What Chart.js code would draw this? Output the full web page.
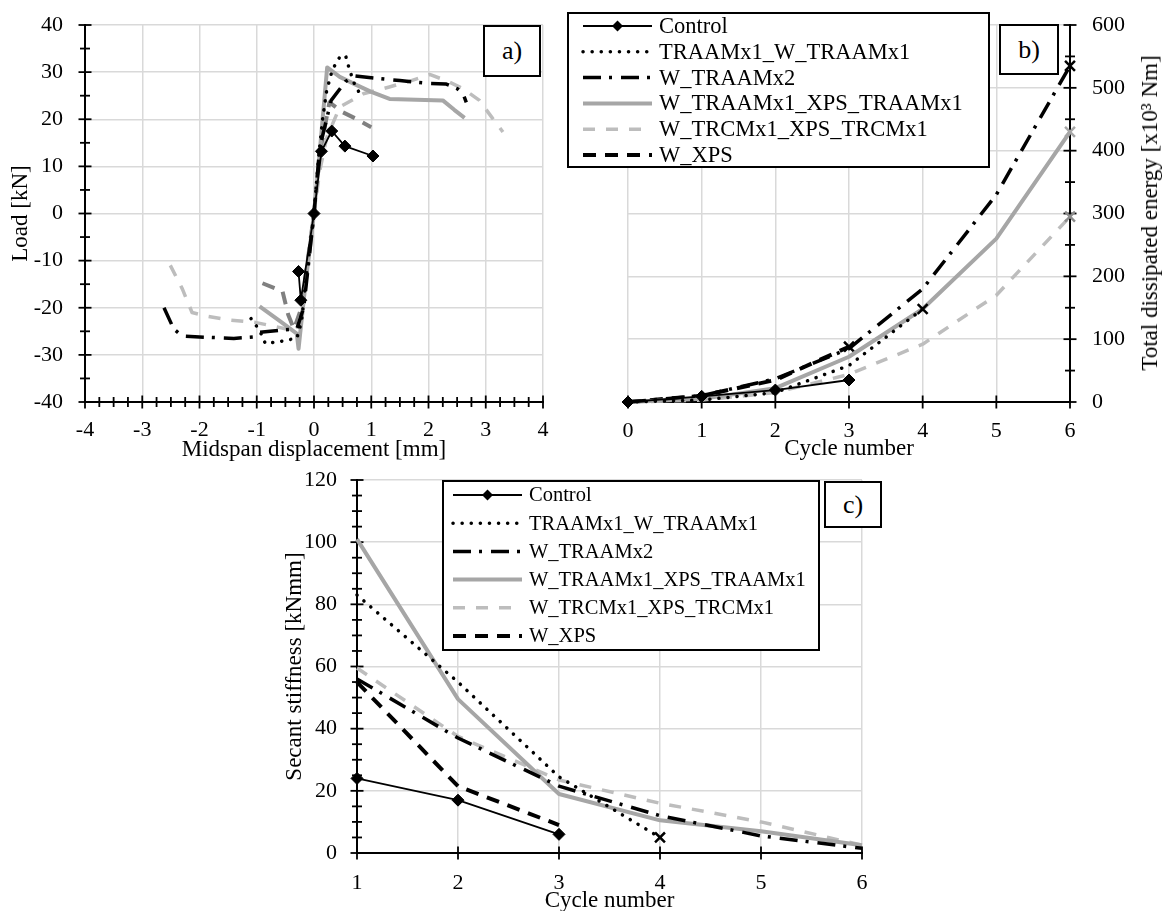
<!DOCTYPE html>
<html>
<head>
<meta charset="utf-8">
<title>Load, dissipated energy and secant stiffness</title>
<script src="https://cdn.jsdelivr.net/npm/chart.js@4.4.1/dist/chart.umd.min.js"></script>
<style>
  html, body { margin: 0; padding: 0; background: #fff; overflow: hidden; }
  body { width: 1164px; height: 911px; position: relative; font-family: 'Liberation Serif', 'Times New Roman', serif; color: #000; }
  canvas { position: absolute; }
  #chartA { left: 0; top: 0; }
  #chartB { left: 560px; top: 0; }
  #chartC { left: 190px; top: 460px; }
  .tag { position: absolute; box-sizing: border-box; border: 2px solid #000; background: #fff; font-size: 26px; display: flex; align-items: center; justify-content: center; }
  .ytitle { position: absolute; font-size: 23px; white-space: nowrap; transform: translate(-50%, -50%) rotate(-90deg); }
</style>
</head>
<body>
<canvas id="chartA" width="560" height="480"></canvas>
<canvas id="chartB" width="604" height="480"></canvas>
<canvas id="chartC" width="720" height="460"></canvas>
<div class="tag" style="left:483px;top:25px;width:58px;height:52px">a)</div>
<div class="tag" style="left:999px;top:24px;width:60px;height:51px">b)</div>
<div class="tag" style="left:824px;top:481px;width:58px;height:47px">c)</div>
<div class="ytitle" style="left:1150px;top:213px">Total dissipated energy [x10³ Nm]</div>
<script>
const FONT = "'Liberation Serif', 'Times New Roman', serif";

const seriesLabels = ['Control', 'TRAAMx1_W_TRAAMx1', 'W_TRAAMx2', 'W_TRAAMx1_XPS_TRAAMx1', 'W_TRCMx1_XPS_TRCMx1', 'W_XPS'];

// a) load vs midspan displacement (envelope curves)
const aControlX = [-0.27, -0.23, 0, 0.13, 0.31, 0.54, 1.03];
const aControlY = [-12.3, -18.4, 0, 13.2, 17.5, 14.3, 12.2];
const aTraam1X = [-1.1, -0.95, -0.85, -0.6, -0.45, -0.3, -0.22, -0.12, 0, 0.08, 0.15, 0.22, 0.32, 0.44, 0.55, 0.62, 0.72, 0.8];
const aTraam1Y = [-22.3, -24.8, -27.6, -27.2, -26.8, -26.5, -23, -12, 0, 12, 20, 26, 30.5, 33, 33.6, 30.5, 27, 25.5];
const aTraam2X = [-2.62, -2.45, -2.3, -2.0, -1.4, -1.05, -0.95, -0.6, -0.3, -0.18, 0, 0.1, 0.3, 0.55, 0.71, 1.0, 1.5, 2.0, 2.3, 2.5, 2.6, 2.66];
const aTraam2Y = [-20, -24.5, -26, -26.2, -26.5, -26.2, -25.2, -24.8, -24.5, -20, 0, 14, 24, 28, 29.2, 28.8, 28.2, 27.6, 27.5, 26.5, 25.5, 23.6];
const aXpsTraamX = [-0.95, -0.6, -0.3, -0.27, -0.15, 0, 0.1, 0.23, 0.45, 0.7, 1.0, 1.32, 2.25, 2.45, 2.63];
const aXpsTraamY = [-19.7, -22.8, -25.5, -28.7, -15, 0, 13, 31, 29, 27.5, 25.8, 24.3, 24, 22, 20.3];
const aTrcmX = [-2.51, -2.3, -2.13, -1.87, -1.47, -1.03, -0.48, -0.3, -0.2, 0, 0.1, 0.22, 0.45, 0.86, 1.3, 1.65, 2.02, 2.31, 2.6, 2.89, 3.1, 3.3];
const aTrcmY = [-11, -16, -21, -21.8, -22.6, -23.1, -24.5, -25, -20, 0, 9, 16, 22.6, 25.4, 26.8, 28, 29.5, 28.2, 26.5, 24, 20.5, 17.3];
const aWxpsX = [-0.9, -0.55, -0.45, -0.35, -0.22, 0, 0.12, 0.27, 0.5, 0.75, 1.0];
const aWxpsY = [-14.8, -16.5, -21.5, -24.5, -20, 0, 14, 23.6, 21.5, 20, 18.3];

// b) total dissipated energy per cycle [x10^3 Nm]
const bCycles = [0, 1, 2, 3, 4, 5, 6];
const bControl = [0, 9, 19, 35];
const bTraam1 = [0, 3, 15, 58, 148];
const bTraam2 = [0, 10, 37, 85, 180, 330, 535];
const bXpsTraam = [0, 5, 22, 72, 148, 260, 430];
const bTrcm = [0, 3, 15, 44, 92, 170, 295];
const bWxps = [0, 10, 35, 88];

// c) secant stiffness per cycle [kNmm]
const cCycles = [1, 2, 3, 4, 5, 6];
const cControl = [24, 17, 6];
const cTraam1 = [83, 55, 24.5, 5];
const cTraam2 = [56, 37, 21.5, 12, 5.5, 1.5];
const cXpsTraam = [101, 49.5, 19, 10.5, 7, 2.5];
const cTrcm = [59.5, 37.5, 23.5, 16, 10, 2.5];
const cWxps = [55, 21.5, 9];

const styles = [
  { color: '#000', width: 1.8, dash: [], cap: 'butt' },
  { color: '#000', width: 3.5, dash: [0.1, 9], cap: 'round' },
  { color: '#000', width: 3.5, dash: [18, 8, 3, 9], cap: 'butt' },
  { color: '#a6a6a6', width: 4, dash: [], cap: 'butt' },
  { color: '#bdbdbd', width: 3.5, dash: [12, 11], cap: 'butt' },
  { color: '#000', width: 4, dash: [13, 9], cap: 'butt' },
];

function toPoints(xs, ys) {
  return ys.map((y, i) => ({ x: xs[i], y }));
}

function makeDataset(i, pts, opts = {}) {
  const s = styles[i];
  const last = pts.length - 1;
  const color = opts.color || s.color;
  const ds = {
    label: seriesLabels[i],
    data: pts,
    showLine: true,
    clip: false,
    tension: 0,
    borderColor: color,
    backgroundColor: color,
    borderWidth: s.width,
    borderDash: s.dash,
    borderCapStyle: s.cap,
    borderJoinStyle: 'round',
    legendColor: s.color,
    pointRadius: 0,
    pointHoverRadius: 0,
  };
  if (i === 0) {
    ds.pointStyle = 'rectRot';
    ds.pointRadius = 6;
    ds.pointBackgroundColor = '#000';
    ds.pointBorderColor = '#000';
    ds.pointBorderWidth = 1;
  } else if (opts.cross) {
    ds.pointStyle = 'crossRot';
    ds.pointRadius = (c) => (c.dataIndex === last ? 7 : 0);
    ds.pointBorderColor = opts.crossColor || color;
    ds.pointBorderWidth = 2.5;
  }
  return ds;
}

// axis lines with Excel-like ticks crossing the axis
const excelAxes = {
  id: 'excelAxes',
  beforeDatasetsDraw(chart, args, opts) {
    const { ctx } = chart;
    ctx.save();
    ctx.strokeStyle = '#000';
    ctx.setLineDash([]);
    opts.axes.forEach((a) => {
      const sc = chart.scales[a.id];
      const cross = chart.scales[a.crossId];
      const at = cross.getPixelForValue(a.at);
      const n = Math.round((sc.max - sc.min) / a.minor);
      const every = Math.round(a.major / a.minor);
      ctx.lineWidth = 2;
      ctx.beginPath();
      if (sc.isHorizontal()) {
        ctx.moveTo(sc.getPixelForValue(sc.min) - 1, at);
        ctx.lineTo(sc.getPixelForValue(sc.max) + 1, at);
      } else {
        ctx.moveTo(at, sc.getPixelForValue(sc.min) + 1);
        ctx.lineTo(at, sc.getPixelForValue(sc.max) - 1);
      }
      ctx.stroke();
      ctx.lineWidth = 1.8;
      for (let k = 0; k <= n; k++) {
        const p = sc.getPixelForValue(sc.min + k * a.minor);
        const half = k % every === 0 ? 6.5 : 5;
        ctx.beginPath();
        if (sc.isHorizontal()) {
          ctx.moveTo(p, at - half);
          ctx.lineTo(p, at + half);
        } else {
          ctx.moveTo(at - half, p);
          ctx.lineTo(at + half, p);
        }
        ctx.stroke();
      }
    });
    ctx.restore();
  },
};

// framed legend drawn inside the canvas
const boxLegend = {
  id: 'boxLegend',
  afterDraw(chart, args, opts) {
    if (!opts.box) return;
    const { ctx } = chart;
    const [bx, by, bw, bh] = opts.box;
    ctx.save();
    ctx.fillStyle = '#fff';
    ctx.fillRect(bx, by, bw, bh);
    ctx.lineWidth = 2;
    ctx.strokeStyle = '#000';
    ctx.setLineDash([]);
    ctx.strokeRect(bx, by, bw, bh);
    ctx.font = `${opts.fontSize}px ${FONT}`;
    ctx.textBaseline = 'middle';
    chart.data.datasets.forEach((ds, i) => {
      const y = by + opts.firstRow + i * opts.rowGap;
      ctx.save();
      ctx.strokeStyle = ds.legendColor;
      ctx.lineWidth = ds.borderWidth;
      ctx.setLineDash(ds.borderDash);
      ctx.lineCap = ds.borderCapStyle;
      ctx.beginPath();
      ctx.moveTo(bx + opts.lineFrom, y);
      ctx.lineTo(bx + opts.lineTo, y);
      ctx.stroke();
      ctx.restore();
      if (ds.pointStyle === 'rectRot') {
        const mx = bx + (opts.lineFrom + opts.lineTo) / 2;
        ctx.fillStyle = '#000';
        ctx.beginPath();
        ctx.moveTo(mx - 5.5, y);
        ctx.lineTo(mx, y - 5.5);
        ctx.lineTo(mx + 5.5, y);
        ctx.lineTo(mx, y + 5.5);
        ctx.closePath();
        ctx.fill();
      }
      ctx.fillStyle = '#000';
      ctx.fillText(ds.label, bx + opts.textX, y + 1);
    });
    ctx.restore();
  },
};

Chart.register(excelAxes, boxLegend);

const tickFont = { family: FONT, size: 22 };
const titleFont = { family: FONT, size: 23 };
const gridStyle = { color: '#d9d9d9', lineWidth: 1.5, drawTicks: false };

// fixed axis box size, and no extra room asked for the end labels
function fixSize(prop, value) {
  return (scale) => {
    scale[prop] = value;
    scale.paddingTop = 0;
    scale.paddingBottom = 0;
    scale.paddingLeft = 0;
    scale.paddingRight = 0;
  };
}

function baseOptions(extra) {
  return {
    responsive: false,
    animation: false,
    devicePixelRatio: 1,
    events: [],
    layout: { padding: extra.padding },
    plugins: {
      legend: { display: false },
      tooltip: { enabled: false },
      excelAxes: { axes: extra.axes },
      boxLegend: extra.legend || {},
    },
    scales: extra.scales,
  };
}

// ---- a) ----
new Chart(document.getElementById('chartA'), {
  type: 'scatter',
  data: {
    datasets: [
      makeDataset(0, toPoints(aControlX, aControlY)),
      makeDataset(1, toPoints(aTraam1X, aTraam1Y)),
      makeDataset(2, toPoints(aTraam2X, aTraam2Y)),
      makeDataset(3, toPoints(aXpsTraamX, aXpsTraamY)),
      makeDataset(4, toPoints(aTrcmX, aTrcmY)),
      makeDataset(5, toPoints(aWxpsX, aWxpsY), { color: '#808080' }),
    ],
  },
  options: baseOptions({
    padding: { top: 25, right: 17, left: 0, bottom: 0 },
    axes: [
      { id: 'x', crossId: 'y', at: -40, major: 1, minor: 0.25 },
      { id: 'y', crossId: 'x', at: -4, major: 10, minor: 5 },
    ],
    scales: {
      x: {
        type: 'linear', min: -4, max: 4,
        ticks: { stepSize: 1, font: tickFont, color: '#000', padding: 15, maxRotation: 0, autoSkip: false },
        grid: gridStyle,
        border: { display: false },
        title: { display: true, text: 'Midspan displacement [mm]', font: titleFont, color: '#000', padding: { top: 0, bottom: 16 } },
        afterFit: fixSize('height', 78),
      },
      y: {
        type: 'linear', min: -40, max: 40,
        ticks: { stepSize: 10, font: tickFont, color: '#000', padding: 22, autoSkip: false },
        grid: gridStyle,
        border: { display: false },
        title: { display: true, text: 'Load [kN]', font: titleFont, color: '#000', padding: { top: 7, bottom: 0 } },
        afterFit: fixSize('width', 85),
      },
    },
  }),
});

// ---- b) ----
new Chart(document.getElementById('chartB'), {
  type: 'scatter',
  data: {
    datasets: [
      makeDataset(0, toPoints(bCycles, bControl)),
      makeDataset(1, toPoints(bCycles, bTraam1), { cross: true, crossColor: '#000' }),
      makeDataset(2, toPoints(bCycles, bTraam2), { cross: true }),
      makeDataset(3, toPoints(bCycles, bXpsTraam), { cross: true }),
      makeDataset(4, toPoints(bCycles, bTrcm), { cross: true, crossColor: '#8c8c8c' }),
      makeDataset(5, toPoints(bCycles, bWxps), { cross: true }),
    ],
  },
  options: baseOptions({
    padding: { top: 25, right: 0, left: 68, bottom: 0 },
    axes: [
      { id: 'x', crossId: 'y', at: 0, major: 1, minor: 1 },
      { id: 'y', crossId: 'x', at: 6, major: 100, minor: 50 },
    ],
    legend: { box: [8, 13, 421, 154], firstRow: 13, rowGap: 25.8, lineFrom: 15, lineTo: 84, textX: 91, fontSize: 22.5 },
    scales: {
      x: {
        type: 'linear', min: 0, max: 6,
        ticks: { stepSize: 1, font: tickFont, color: '#000', padding: 16, maxRotation: 0, autoSkip: false },
        grid: gridStyle,
        border: { display: false },
        title: { display: true, text: 'Cycle number', font: titleFont, color: '#000', padding: { top: 0, bottom: 17 } },
        afterFit: fixSize('height', 78),
      },
      y: {
        type: 'linear', position: 'right', min: 0, max: 600,
        ticks: { stepSize: 100, font: tickFont, color: '#000', padding: 22, autoSkip: false },
        grid: gridStyle,
        border: { display: false },
        title: { display: false },
        afterFit: fixSize('width', 94),
      },
    },
  }),
});

// ---- c) ----
new Chart(document.getElementById('chartC'), {
  type: 'scatter',
  data: {
    datasets: [
      makeDataset(0, toPoints(cCycles, cControl)),
      makeDataset(1, toPoints(cCycles, cTraam1), { cross: true }),
      makeDataset(2, toPoints(cCycles, cTraam2)),
      makeDataset(3, toPoints(cCycles, cXpsTraam)),
      makeDataset(4, toPoints(cCycles, cTrcm)),
      makeDataset(5, toPoints(cCycles, cWxps)),
    ],
  },
  options: baseOptions({
    padding: { top: 20, right: 48, left: 0, bottom: 0 },
    axes: [
      { id: 'x', crossId: 'y', at: 0, major: 1, minor: 1 },
      { id: 'y', crossId: 'x', at: 1, major: 20, minor: 5 },
    ],
    legend: { box: [253, 21, 376, 169], firstRow: 14, rowGap: 28.2, lineFrom: 10, lineTo: 79, textX: 86, fontSize: 20.5 },
    scales: {
      x: {
        type: 'linear', min: 1, max: 6,
        ticks: { stepSize: 1, font: tickFont, color: '#000', padding: 17, maxRotation: 0, autoSkip: false },
        grid: gridStyle,
        border: { display: false },
        title: { display: true, text: 'Cycle number', font: titleFont, color: '#000', padding: { top: 0, bottom: 5 } },
        afterFit: fixSize('height', 67),
      },
      y: {
        type: 'linear', min: 0, max: 120,
        ticks: { stepSize: 20, font: tickFont, color: '#000', padding: 20, autoSkip: false },
        grid: gridStyle,
        border: { display: false },
        title: { display: true, text: 'Secant stiffness [kNmm]', font: titleFont, color: '#000', padding: { top: 91, bottom: 0 } },
        afterFit: fixSize('width', 167),
      },
    },
  }),
});
</script>
</body>
</html>
